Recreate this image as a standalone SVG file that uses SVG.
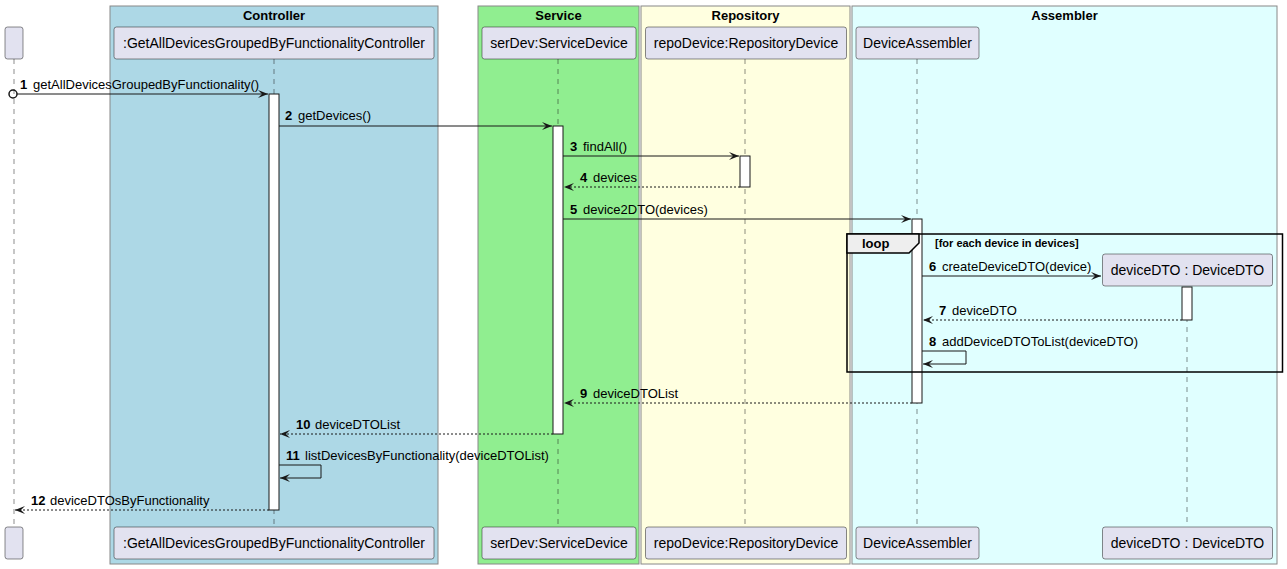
<svg xmlns="http://www.w3.org/2000/svg" width="1287" height="569" viewBox="0 0 1287 569">
<style>
.box{stroke:#888888;stroke-width:1}
.btitle{font-family:"Liberation Sans",Arial,sans-serif;font-size:13px;font-weight:bold;fill:#000;text-anchor:middle}
.part{fill:#E2E2F0;stroke:#181818;stroke-width:0.5}
.ptext{font-family:"Liberation Sans",Arial,sans-serif;font-size:14px;fill:#000;text-anchor:middle}
.life{stroke:#181818;stroke-width:0.5;stroke-dasharray:5,5;fill:none}
.act{fill:#FFFFFF;stroke:#181818;stroke-width:1}
.msg{stroke:#181818;stroke-width:1;fill:none}
.ret{stroke:#181818;stroke-width:1;fill:none;stroke-dasharray:2,2}
.num{font-family:"Liberation Sans",Arial,sans-serif;font-size:13px;font-weight:bold;fill:#000}
.mtext{font-family:"Liberation Sans",Arial,sans-serif;font-size:13px;fill:#000}
.head{fill:#181818;stroke:#181818;stroke-width:1}
</style>
<defs>
<marker id="arr" viewBox="0 0 11 10" refX="10" refY="5" markerWidth="11" markerHeight="10" markerUnits="userSpaceOnUse" orient="auto">
<path d="M0,1 L10,5 L0,9 L4,5 Z" fill="#181818"/>
</marker>
</defs>
<g id="boxes">
<rect class="box" x="110" y="6" width="328" height="558" fill="#ADD8E6"/>
<text class="btitle" x="274" y="20">Controller</text>
<rect class="box" x="478" y="6" width="161" height="558" fill="#90EE90"/>
<text class="btitle" x="558.5" y="20">Service</text>
<rect class="box" x="641" y="6" width="209" height="558" fill="#FFFFE0"/>
<text class="btitle" x="745.5" y="20">Repository</text>
<rect class="box" x="852" y="6" width="425" height="558" fill="#E0FFFF"/>
<text class="btitle" x="1064.5" y="20">Assembler</text>
</g>
<g id="lifelines">
<line class="life" x1="14" y1="59" x2="14" y2="527"/>
<line class="life" x1="274" y1="59" x2="274" y2="527"/>
<line class="life" x1="558" y1="59" x2="558" y2="527"/>
<line class="life" x1="745" y1="59" x2="745" y2="527"/>
<line class="life" x1="917" y1="59" x2="917" y2="527"/>
<line class="life" x1="1187" y1="287" x2="1187" y2="527"/>
</g>
<g id="actor">
<rect class="part" x="5" y="27" width="18" height="32" rx="2.5"/>
<rect class="part" x="5" y="527" width="18" height="32" rx="2.5"/>
</g>
<g id="controller">
<rect class="part" x="114" y="27" width="320" height="32" rx="2.5"/>
<text class="ptext" x="274" y="48">:GetAllDevicesGroupedByFunctionalityController</text>
<rect class="part" x="114" y="527" width="320" height="32" rx="2.5"/>
<text class="ptext" x="274" y="548">:GetAllDevicesGroupedByFunctionalityController</text>
</g>
<g id="serDev">
<rect class="part" x="482" y="27" width="154" height="32" rx="2.5"/>
<text class="ptext" x="559" y="48">serDev:ServiceDevice</text>
<rect class="part" x="482" y="527" width="154" height="32" rx="2.5"/>
<text class="ptext" x="559" y="548">serDev:ServiceDevice</text>
</g>
<g id="repoDevice">
<rect class="part" x="645.5" y="27" width="201" height="32" rx="2.5"/>
<text class="ptext" x="746" y="48">repoDevice:RepositoryDevice</text>
<rect class="part" x="645.5" y="527" width="201" height="32" rx="2.5"/>
<text class="ptext" x="746" y="548">repoDevice:RepositoryDevice</text>
</g>
<g id="deviceAssembler">
<rect class="part" x="856" y="27" width="123" height="32" rx="2.5"/>
<text class="ptext" x="917.5" y="48">DeviceAssembler</text>
<rect class="part" x="856" y="527" width="123" height="32" rx="2.5"/>
<text class="ptext" x="917.5" y="548">DeviceAssembler</text>
</g>
<g id="deviceDTO">
<rect class="part" x="1102.5" y="254" width="170" height="32" rx="2.5"/>
<text class="ptext" x="1187.5" y="275">deviceDTO : DeviceDTO</text>
<rect class="part" x="1102.5" y="527" width="170" height="32" rx="2.5"/>
<text class="ptext" x="1187.5" y="548">deviceDTO : DeviceDTO</text>
</g>
<g id="activations">
<rect class="act" x="269" y="94" width="10" height="416"/>
<rect class="act" x="553" y="126" width="10" height="308"/>
<rect class="act" x="740" y="156" width="10" height="31"/>
<rect class="act" x="912" y="219" width="10" height="184"/>
<rect class="act" x="1182" y="287" width="10" height="33"/>
</g>
<g id="loop">
<rect x="847" y="234" width="435.5" height="138" fill="none" stroke="#000" stroke-width="1.5"/>
<path d="M847,234 L919,234 L919,243 L909,253 L847,253 Z" fill="#EEEEEE" stroke="#000" stroke-width="1.5"/>
<text class="num" x="862" y="248">loop</text>
<text x="935" y="247" font-family="Liberation Sans,Arial,sans-serif" font-size="11" font-weight="bold" fill="#000">[for each device in devices]</text>
</g>
<g id="connectors">
<circle cx="13" cy="94" r="4" fill="none" stroke="#181818" stroke-width="1.5"/>
<line class="msg" x1="17" y1="94" x2="268" y2="94" marker-end="url(#arr)"/>
<text class="num" x="20" y="89">1</text><text class="mtext" x="33" y="89">getAllDevicesGroupedByFunctionality()</text>

<line class="msg" x1="279" y1="126" x2="552" y2="126" marker-end="url(#arr)"/>
<text class="num" x="285" y="120">2</text><text class="mtext" x="298" y="120">getDevices()</text>

<line class="msg" x1="563" y1="156" x2="739" y2="156" marker-end="url(#arr)"/>
<text class="num" x="570" y="151">3</text><text class="mtext" x="583" y="151">findAll()</text>

<line class="ret" x1="740" y1="187" x2="564" y2="187" marker-end="url(#arr)"/>
<text class="num" x="580" y="182">4</text><text class="mtext" x="593" y="182">devices</text>

<line class="msg" x1="563" y1="219" x2="911" y2="219" marker-end="url(#arr)"/>
<text class="num" x="570" y="214">5</text><text class="mtext" x="583" y="214">device2DTO(devices)</text>

<line class="msg" x1="922" y1="276" x2="1101" y2="276" marker-end="url(#arr)"/>
<text class="num" x="929" y="271">6</text><text class="mtext" x="942" y="271">createDeviceDTO(device)</text>

<line class="ret" x1="1182" y1="320" x2="923" y2="320" marker-end="url(#arr)"/>
<text class="num" x="939" y="315">7</text><text class="mtext" x="952" y="315">deviceDTO</text>

<polyline class="msg" points="922,351 966,351 966,364 923,364" marker-end="url(#arr)"/>
<text class="num" x="929" y="346">8</text><text class="mtext" x="942" y="346">addDeviceDTOToList(deviceDTO)</text>

<line class="ret" x1="912" y1="403" x2="564" y2="403" marker-end="url(#arr)"/>
<text class="num" x="580" y="398">9</text><text class="mtext" x="593" y="398">deviceDTOList</text>

<line class="ret" x1="553" y1="434" x2="280" y2="434" marker-end="url(#arr)"/>
<text class="num" x="296" y="429">10</text><text class="mtext" x="315" y="429">deviceDTOList</text>

<polyline class="msg" points="279,465 321,465 321,478 280,478" marker-end="url(#arr)"/>
<text class="num" x="286" y="460">11</text><text class="mtext" x="305" y="460">listDevicesByFunctionality(deviceDTOList)</text>

<line class="ret" x1="269" y1="510" x2="15" y2="510" marker-end="url(#arr)"/>
<text class="num" x="31" y="505">12</text><text class="mtext" x="50" y="505">deviceDTOsByFunctionality</text>
</g>
</svg>
